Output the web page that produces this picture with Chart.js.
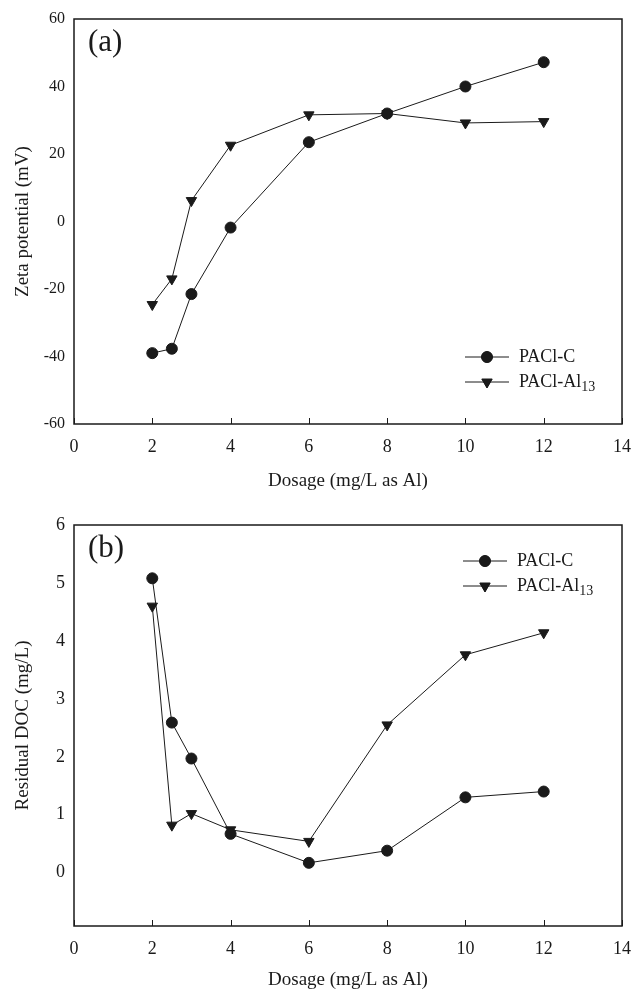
<!DOCTYPE html>
<html lang="en">
<head>
    <meta charset="UTF-8">
    <title>Zeta potential and residual DOC vs dosage</title>
    <script src="https://cdn.jsdelivr.net/npm/chart.js@4.4.4/dist/chart.umd.min.js"></script>
    <style>
        body { margin: 0; background: #fff; }
        #wrap { position: relative; width: 643px; height: 991px; }
        canvas { position: absolute; left: 0; }
        #chart-a { top: 0; }
        #chart-b { top: 495px; }
    </style>
</head>
<body>
<div id="wrap">
    <canvas id="chart-a" width="643" height="495"></canvas>
    <canvas id="chart-b" width="643" height="496"></canvas>
</div>
<script>
// dosage (mg/L as Al)
const dosage = [2, 2.5, 3, 4, 6, 8, 10, 12];

// (a) zeta potential (mV)
const zetaPaclC = [-39, -37.7, -21.5, -1.8, 23.5, 32, 40, 47.2];
const zetaPaclAl13 = [-24.6, -17, 6.2, 22.6, 31.6, 32, 29.2, 29.6];

// (b) residual DOC (mg/L)
const docPaclC = [5.08, 2.59, 1.97, 0.67, 0.17, 0.38, 1.30, 1.40];
const docPaclAl13 = [4.60, 0.82, 1.02, 0.74, 0.54, 2.55, 3.76, 4.14];

const docTicks = [0, 1, 2, 3, 4, 5, 6];

const FONT = "'Liberation Serif', 'Times New Roman', serif";
const INK = '#1a1a1a';

// frame, inward x ticks, panel letter and legend (line through marker, subscript 13)
const framePlugin = {
    id: 'frame',
    afterDatasetsDraw(chart, args, opts) {
        const ctx = chart.ctx;
        const a = chart.chartArea;
        const xs = chart.scales.x;
        ctx.save();
        ctx.strokeStyle = INK;
        ctx.lineWidth = 1.5;
        ctx.strokeRect(a.left, a.top, a.right - a.left, a.bottom - a.top);
        ctx.lineWidth = 1;
        xs.ticks.forEach(t => {
            const px = Math.round(xs.getPixelForValue(t.value)) + 0.5;
            ctx.beginPath();
            ctx.moveTo(px, a.bottom);
            ctx.lineTo(px, a.bottom - 6);
            ctx.stroke();
        });

        ctx.fillStyle = INK;
        ctx.font = '31px ' + FONT;
        ctx.textBaseline = 'middle';
        ctx.textAlign = 'left';
        ctx.fillText(opts.letter, 88, opts.letterY);

        chart.data.datasets.forEach((ds, i) => {
            const y = opts.legendY + i * 25;
            ctx.strokeStyle = INK;
            ctx.lineWidth = 1;
            ctx.beginPath();
            ctx.moveTo(opts.legendX, y);
            ctx.lineTo(opts.legendX + 44, y);
            ctx.stroke();
            Chart.helpers.drawPoint(ctx, {
                pointStyle: ds.pointStyle,
                radius: ds.pointRadius,
                rotation: ds.rotation || 0,
                borderWidth: 1
            }, opts.legendX + 22, y);
            ctx.fillStyle = INK;
            ctx.fill();
            ctx.font = '18px ' + FONT;
            ctx.textBaseline = 'middle';
            ctx.fillText(ds.label, opts.legendX + 54, y);
            if (ds.sub) {
                const w = ctx.measureText(ds.label).width;
                ctx.font = '14px ' + FONT;
                ctx.fillText(ds.sub, opts.legendX + 54 + w, y + 5);
            }
        });
        ctx.restore();
    }
};

function series(label, sub, values, style) {
    return {
        label: label,
        sub: sub,
        data: dosage.map((d, i) => ({ x: d, y: values[i] })),
        borderColor: INK,
        borderWidth: 1,
        backgroundColor: INK,
        pointBackgroundColor: INK,
        pointBorderColor: INK,
        pointStyle: style,
        rotation: style === 'triangle' ? 180 : 0,
        pointRotation: style === 'triangle' ? 180 : 0,
        pointRadius: style === 'triangle' ? 6 : 5.5,
        tension: 0,
        fill: false
    };
}

function makeChart(id, cfg) {
    return new Chart(document.getElementById(id), {
        type: 'line',
        data: { datasets: cfg.datasets },
        plugins: [framePlugin],
        options: {
            responsive: false,
            animation: false,
            layout: { padding: { top: cfg.padTop, right: cfg.padRight, bottom: 0, left: 0 } },
            plugins: {
                legend: { display: false },
                tooltip: { enabled: false },
                frame: cfg.frame
            },
            scales: {
                x: {
                    type: 'linear',
                    min: 0,
                    max: 14,
                    ticks: { stepSize: 2, color: INK, padding: 12, font: { family: FONT, size: 18 } },
                    grid: { display: false, drawTicks: false },
                    border: { display: false },
                    title: {
                        display: true,
                        text: 'Dosage (mg/L as Al)',
                        color: INK,
                        font: { family: FONT, size: 19 },
                        padding: { top: 0, bottom: cfg.xTitlePad }
                    },
                    afterFit: s => { s.height = cfg.xHeight; }
                },
                y: {
                    type: 'linear',
                    min: cfg.yMin,
                    max: cfg.yMax,
                    ticks: { stepSize: cfg.yStep, color: INK, padding: 9, font: { family: FONT, size: cfg.yTickSize } },
                    afterBuildTicks: cfg.yTicks ? (s => { s.ticks = cfg.yTicks.map(v => ({ value: v })); }) : undefined,
                    grid: { display: false, drawTicks: false },
                    border: { display: false },
                    title: {
                        display: true,
                        text: cfg.yTitle,
                        color: INK,
                        font: { family: FONT, size: 19 },
                        padding: { top: 12, bottom: 0 }
                    },
                    afterFit: s => { s.width = 74; }
                }
            }
        }
    });
}

makeChart('chart-a', {
    datasets: [
        series('PACl-C', '', zetaPaclC, 'circle'),
        series('PACl-Al', '13', zetaPaclAl13, 'triangle')
    ],
    padTop: 19, padRight: 10, xHeight: 71, xTitlePad: 3,
    yMin: -60, yMax: 60, yStep: 20, yTickSize: 16,
    yTitle: 'Zeta potential (mV)',
    frame: { letter: '(a)', letterY: 43, legendX: 465, legendY: 357 }
});

makeChart('chart-b', {
    datasets: [
        series('PACl-C', '', docPaclC, 'circle'),
        series('PACl-Al', '13', docPaclAl13, 'triangle')
    ],
    padTop: 30, padRight: 13, xHeight: 65, xTitlePad: 0,
    yMin: -0.92, yMax: 6, yStep: 1, yTicks: docTicks, yTickSize: 18,
    yTitle: 'Residual DOC (mg/L)',
    frame: { letter: '(b)', letterY: 54, legendX: 463, legendY: 66 }
});
</script>
</body>
</html>
